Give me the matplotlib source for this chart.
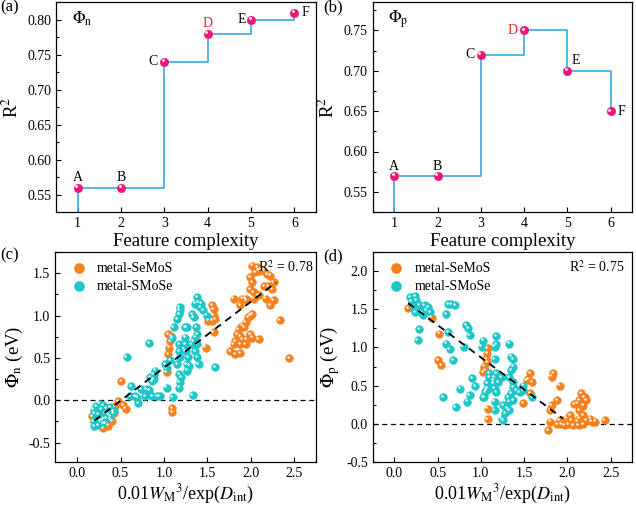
import numpy as np
import matplotlib
matplotlib.use("Agg")
import matplotlib.pyplot as plt
from matplotlib.ticker import AutoMinorLocator
from matplotlib.transforms import offset_copy

plt.rcParams['font.family'] = ['Liberation Serif', 'DejaVu Serif']
plt.rcParams['mathtext.fontset'] = 'stix'

# ---- panels (a) and (b): R^2 vs feature complexity ----
complexity = [1, 2, 3, 4, 5, 6]
point_labels = ["A", "B", "C", "D", "E", "F"]
r2_n = [0.56, 0.56, 0.74, 0.78, 0.80, 0.81]
r2_p = [0.57, 0.57, 0.72, 0.75, 0.70, 0.65]

# ---- panel (c): Phi_n ----
n_seMoS_x = [0.17, 0.30, 0.32, 0.36, 0.40, 0.42, 0.38, 0.44, 0.47, 0.51, 0.53, 0.56,
             1.03, 1.05, 1.06, 1.07, 1.05, 1.08, 1.09, 1.09, 1.48,
             2.01, 2.07, 2.11, 2.05, 2.09, 1.99, 2.01, 1.99, 2.03, 2.09, 2.03, 2.15, 2.20,
             2.26, 2.24, 2.19, 2.15, 2.22, 2.17, 1.80, 1.90, 1.94, 1.88, 1.95, 2.26, 2.22,
             1.55, 1.57, 1.57, 1.55, 1.59, 1.51, 1.57, 2.33, 2.01, 1.99, 1.97, 1.94, 1.90,
             1.86, 1.92, 1.84, 1.88, 1.82, 1.90, 1.95, 1.99, 2.01, 2.09, 1.94, 1.80, 1.88,
             1.76, 1.82, 1.88, 2.44]
n_seMoS_y = [-0.19, -0.33, -0.27, -0.30, -0.25, -0.15, -0.22, -0.07, -0.01, 0.23, -0.06, -0.10,
             0.33, 0.54, 0.62, 0.70, 0.78, 0.76, -0.09, -0.14, 0.62,
             1.59, 1.57, 1.55, 1.51, 1.53, 1.45, 1.39, 1.31, 1.28, 1.24, 1.20, 1.35, 1.35,
             1.39, 1.31, 1.49, 1.53, 1.47, 1.20, 1.20, 1.20, 1.20, 1.12, 1.18, 1.18, 1.12,
             1.12, 1.08, 1.00, 0.94, 0.96, 0.94, 0.80, 0.95, 1.02, 1.00, 0.98, 0.92, 0.88,
             0.84, 0.86, 0.78, 0.76, 0.70, 0.72, 0.72, 0.78, 0.74, 0.72, 0.66, 0.66, 0.66,
             0.58, 0.54, 0.56, 0.50]
n_sMoSe_x = [0.19, 0.22, 0.26, 0.30, 0.20, 0.24, 0.28, 0.34, 0.38, 0.32, 0.36, 0.34,
             0.19, 0.20, 0.24, 0.30, 0.38, 0.42, 0.57, 0.83, 0.62, 0.61, 0.67, 0.70,
             0.69, 0.74, 0.80, 0.83, 0.78, 0.86, 0.92, 0.95, 0.86, 0.84, 0.88, 0.90,
             0.88, 1.03, 1.01, 1.03, 1.07, 1.09, 1.10, 1.11, 1.15, 1.17, 1.18, 1.18,
             1.17, 1.17, 1.18, 1.15, 1.17, 1.18, 1.17, 1.20, 1.24, 1.24, 1.25, 1.26,
             1.25, 1.26, 1.27, 1.28, 1.29, 1.33, 1.32, 1.34, 1.36, 1.38, 1.40, 1.42,
             1.43, 1.45, 1.49, 1.37, 1.38, 1.36, 1.38, 1.36, 1.38, 1.40, 1.34, 1.31, 1.59]
n_sMoSe_y = [-0.11, -0.07, -0.04, -0.06, -0.15, -0.17, -0.11, -0.09, -0.08, -0.15, -0.17, -0.21,
             -0.25, -0.31, -0.29, -0.27, -0.19, -0.13, 0.51, 0.67, 0.17, 0.05, 0.05, -0.03,
             0.03, 0.13, 0.13, 0.12, 0.05, 0.05, 0.05, 0.05, 0.23, 0.27, 0.31, 0.35,
             0.25, 0.15, 0.43, 0.38, 0.47, 0.73, 0.04, 0.86, 0.96, 1.02, 1.10, 1.06,
             0.58, 0.66, 0.51, 0.43, 0.31, 0.21, 0.15, 0.27, 0.86, 0.74, 0.66, 0.86,
             0.58, 0.43, 0.35, 0.51, 0.41, 0.06, 1.02, 0.98, 1.14, 1.22, 1.16, 1.10,
             1.14, 1.06, 1.00, 0.86, 0.78, 0.74, 0.66, 0.58, 0.51, 0.43, 0.70, 0.66, 0.39]
fit_n_x = [0.20, 2.29]
fit_n_y = [-0.24, 1.39]

# ---- panel (d): Phi_p ----
p_seMoS_x = [0.16, 0.43, 0.52, 0.51, 0.54, 1.08, 1.07, 1.06, 1.07, 1.05, 1.04, 1.03,
             1.08, 1.08, 1.57, 1.55, 1.59, 1.53, 1.57, 1.49, 1.82, 1.84, 1.91, 1.88,
             1.82, 1.80, 1.78, 1.80, 1.88, 1.93, 1.97, 1.91, 1.99, 2.03, 2.05, 2.01,
             2.07, 2.11, 2.14, 2.18, 2.14, 2.11, 2.16, 2.20, 2.22, 2.14, 2.18, 2.22,
             2.28, 2.32, 2.43, 2.18, 2.26, 2.13, 2.08]
p_seMoS_y = [1.52, 1.39, 1.18, 0.83, 0.77, 0.99, 0.92, 0.85, 0.81, 0.70, 0.75, 0.68,
             0.20, 0.06, 0.66, 0.59, 0.55, 0.57, 0.40, 0.27, 0.62, 0.66, 0.50, 0.31,
             0.25, 0.18, -0.08, 0.03, 0.00, 0.00, -0.02, 0.05, 0.07, 0.11, 0.05, 0.00,
             -0.02, 0.03, 0.07, 0.11, 0.18, 0.27, 0.40, 0.35, 0.31, 0.31, 0.24, 0.05,
             0.03, 0.03, 0.05, 0.00, 0.07, -0.02, 0.26]
p_sMoSe_x = [0.18, 0.24, 0.25, 0.20, 0.22, 0.29, 0.35, 0.39, 0.31, 0.37, 0.41, 0.24,
             0.33, 0.29, 0.27, 0.62, 0.66, 0.70, 0.60, 0.62, 0.60, 0.64, 0.68, 0.83,
             0.85, 0.87, 0.80, 1.03, 1.01, 0.56, 0.71, 0.76, 0.84, 0.87, 0.93, 0.90,
             1.03, 1.05, 1.08, 1.07, 1.10, 1.14, 1.16, 1.18, 1.18, 1.16, 1.33, 1.35,
             1.37, 1.37, 1.35, 1.33, 1.37, 1.37, 1.16, 1.10, 1.18, 1.24, 1.14, 1.20,
             1.16, 1.18, 1.06, 1.04, 1.16, 1.16, 1.26, 1.30, 1.28, 1.24, 1.26, 1.32,
             1.35, 1.37, 1.41, 1.45, 1.49, 1.49, 1.59, 1.33, 1.33]
p_sMoSe_y = [1.66, 1.67, 1.62, 1.60, 1.53, 1.55, 1.55, 1.53, 1.46, 1.49, 1.46, 1.46,
             1.42, 1.24, 1.10, 1.57, 1.57, 1.55, 1.44, 1.20, 1.05, 0.98, 0.83, 1.29,
             1.25, 1.16, 1.01, 1.09, 1.01, 0.35, 0.22, 0.46, 0.29, 0.38, 0.49, 0.60,
             0.35, 0.42, 0.46, 0.53, 0.61, 0.53, 0.61, 1.15, 1.04, 1.01, 1.05, 0.88,
             0.85, 0.75, 0.70, 0.61, 0.55, 0.48, 0.85, 0.66, 0.66, 0.61, 0.57, 0.55,
             0.46, 0.42, 0.44, 0.35, 0.29, 0.18, 0.25, 0.20, 0.14, 0.07, 0.05, 0.35,
             0.40, 0.31, 0.44, 0.42, 0.50, 0.44, 0.35, 0.29, 0.18]
fit_p_x = [0.16, 1.95]
fit_p_y = [1.58, 0.07]

pink = "#ec1877"
step_blue = "#3aa8e6"
orange = "#f5821f"
cyan = "#1ec6c8"

fig = plt.figure(figsize=(6.36, 5.05), dpi=100)
ax_a = fig.add_axes([0.088, 0.580, 0.409, 0.416])
ax_b = fig.add_axes([0.586, 0.580, 0.408, 0.416])
ax_c = fig.add_axes([0.087, 0.085, 0.410, 0.416])
ax_d = fig.add_axes([0.586, 0.085, 0.408, 0.416])


def style_axes(ax):
    ax.tick_params(which='both', direction='in', labelsize=10, width=0.8)
    ax.tick_params(which='major', length=3.5)
    ax.tick_params(which='minor', length=2)
    ax.yaxis.set_minor_locator(AutoMinorLocator(2))
    for s in ax.spines.values():
        s.set_linewidth(0.9)


def shiny(ax, x, y, color, size, hl, shift, label=None):
    ax.scatter(x, y, s=size, color=color, edgecolors=color, linewidths=0.3, zorder=3, label=label)
    tr = offset_copy(ax.transData, fig=fig, x=-shift, y=shift, units='points')
    ax.scatter(x, y, s=hl, color='white', linewidths=0, zorder=4, transform=tr)


def step_panel(ax, r2, ylim, yticks, offsets, phi):
    ax.set_xlim(0.5, 6.5)
    ax.set_ylim(*ylim)
    ax.step(complexity, r2, where='post', color=step_blue, lw=1.2, zorder=2)
    ax.plot([complexity[0], complexity[0]], [ylim[0], r2[0]], color=step_blue, lw=1.2, zorder=2)
    shiny(ax, complexity, r2, pink, 38, 4, 1.0)
    for xi, yi, lab, off in zip(complexity, r2, point_labels, offsets):
        ax.annotate(lab, (xi, yi), xytext=off, textcoords='offset points',
                    ha='center', va='center', fontsize=10,
                    color='#e8262b' if lab == 'D' else 'black')
    ax.set_xticks(complexity)
    ax.set_yticks(yticks)
    ax.yaxis.set_major_formatter(matplotlib.ticker.FormatStrFormatter('%.2f'))
    ax.set_xlabel("Feature complexity", fontsize=13.5, labelpad=2)
    ax.set_ylabel("R$^2$", fontsize=13.5, labelpad=4)
    ax.text(0.06, 0.92, phi, transform=ax.transAxes, fontsize=12, va='center')
    style_axes(ax)


step_panel(ax_a, r2_n, (0.525, 0.825), [0.55, 0.60, 0.65, 0.70, 0.75, 0.80],
           [(0, 7), (0, 7), (-8, 0), (0, 7), (-7, 0), (8, 0)], r"$\Phi_\mathrm{n}$")
step_panel(ax_b, r2_p, (0.525, 0.785), [0.55, 0.60, 0.65, 0.70, 0.75],
           [(0, 7), (0, 7), (-8, 0), (-8, 0), (6, 7), (8, 0)], r"$\Phi_\mathrm{p}$")


def scatter_panel(ax, ox, oy, cx, cy, fx, fy, ylim, yticks, ylabel, r2txt, r2pos):
    ax.set_xlim(-0.25, 2.75)
    ax.set_ylim(*ylim)
    ax.axhline(0, color='black', lw=0.9, ls=(0, (4, 3)), zorder=1)
    shiny(ax, ox, oy, orange, 32, 3, 0.9, label="metal-SeMoS")
    shiny(ax, cx, cy, cyan, 32, 3, 0.9, label="metal-SMoSe")
    ax.plot(fx, fy, color='black', lw=1.3, ls=(0, (4, 3)), zorder=5)
    ax.set_xticks([0.0, 0.5, 1.0, 1.5, 2.0, 2.5])
    ax.set_yticks(yticks)
    ax.xaxis.set_major_formatter(matplotlib.ticker.FormatStrFormatter('%.1f'))
    ax.yaxis.set_major_formatter(matplotlib.ticker.FormatStrFormatter('%.1f'))
    ax.set_xlabel(r"0.01$W_\mathrm{M}{}^3$/exp($D_\mathrm{int}$)", fontsize=13, labelpad=2)
    ax.set_ylabel(ylabel, fontsize=13.5, labelpad=3)
    ax.text(r2pos[0], r2pos[1], r2txt, transform=ax.transAxes, fontsize=10, ha='right', va='center')
    ax.legend(loc='upper left', frameon=False, fontsize=10, handletextpad=0.3,
              borderaxespad=0.3, labelspacing=0.35, bbox_to_anchor=(0.0, 1.0), markerscale=1.3)
    style_axes(ax)


scatter_panel(ax_c, n_seMoS_x, n_seMoS_y, n_sMoSe_x, n_sMoSe_y, fit_n_x, fit_n_y,
              (-0.73, 1.75), [-0.5, 0.0, 0.5, 1.0, 1.5], r"$\Phi_\mathrm{n}$ (eV)",
              "R$^2$ = 0.78", (0.99, 0.93))
scatter_panel(ax_d, p_seMoS_x, p_seMoS_y, p_sMoSe_x, p_sMoSe_y, fit_p_x, fit_p_y,
              (-0.5, 2.25), [-0.5, 0.0, 0.5, 1.0, 1.5, 2.0], r"$\Phi_\mathrm{p}$ (eV)",
              "R$^2$ = 0.75", (0.97, 0.93))

fig.text(0.0, 0.985, "(a)", fontsize=12, va='center')
fig.text(0.508, 0.985, "(b)", fontsize=12, va='center')
fig.text(0.0, 0.495, "(c)", fontsize=12, va='center')
fig.text(0.508, 0.492, "(d)", fontsize=12, va='center')

fig.savefig("out.png", dpi=100)
